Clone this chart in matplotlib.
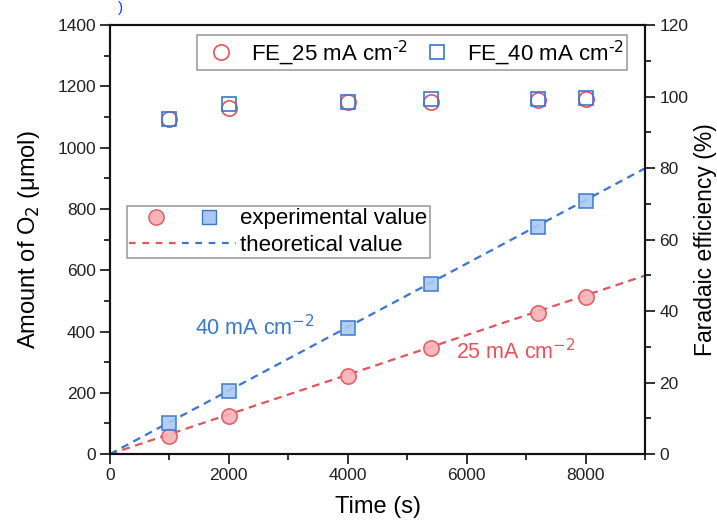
import matplotlib.pyplot as plt
from matplotlib.lines import Line2D
from matplotlib.legend_handler import HandlerTuple
from matplotlib.ticker import MultipleLocator

plt.rcParams['font.family'] = ['Liberation Sans', 'DejaVu Sans']

# time points (s)
t = [1000, 2000, 4000, 5400, 7200, 8000]
# measured O2 amount (umol)
o2_25 = [58, 124, 254, 345, 461, 514]
o2_40 = [100, 205, 410, 555, 740, 825]
# theoretical lines (end points)
t_theo = [0, 9000]
theo_25 = [0, 583]
theo_40 = [0, 933]
# faradaic efficiency (%)
fe_25 = [93.6, 96.9, 98.5, 98.4, 99.1, 99.3]
fe_40 = [93.7, 97.8, 98.6, 99.2, 99.2, 99.5]

red = '#e2545e'
red_face = '#f5b3b5'
blue = '#3b76d0'
blue_face = '#a9c9f2'

fig = plt.figure(figsize=(7.17, 5.22), dpi=100)
ax = fig.add_axes([0.153, 0.13, 0.747, 0.822])
ax2 = ax.twinx()

ax.plot(t_theo, theo_25, ls=(0, (3.5, 2.5)), color=red, lw=1.6, zorder=2)
ax.plot(t_theo, theo_40, ls=(0, (3.5, 2.5)), color=blue, lw=1.6, zorder=2)
ax.plot(t, o2_25, 'o', ms=11, mfc=red_face, mec=red, mew=1.2, alpha=0.9, zorder=3)
ax.plot(t, o2_40, 's', ms=10, mfc=blue_face, mec=blue, mew=1.2, alpha=0.9, zorder=3)

ax2.plot(t, fe_25, 'o', ms=11, mfc='none', mec=red, mew=1.2)
ax2.plot(t, fe_40, 's', ms=10, mfc='none', mec=blue, mew=1.2)

ax.text(1430, 413, '40 mA cm$^{-2}$', color=blue, fontsize=15.5, va='center', ha='left')
ax.text(5820, 335, '25 mA cm$^{-2}$', color=red, fontsize=15.5, va='center', ha='left')

ax.set_xlim(0, 9000)
ax.set_ylim(0, 1400)
ax2.set_ylim(0, 120)
ax.xaxis.set_major_locator(MultipleLocator(2000))
ax.xaxis.set_minor_locator(MultipleLocator(1000))
ax.yaxis.set_major_locator(MultipleLocator(200))
ax.yaxis.set_minor_locator(MultipleLocator(100))
ax2.yaxis.set_major_locator(MultipleLocator(20))
ax2.yaxis.set_minor_locator(MultipleLocator(10))

for a in (ax, ax2):
    a.tick_params(which='major', direction='out', length=7, width=1.3, labelsize=12.5,
                  colors='#222222', pad=3)
    a.tick_params(which='minor', direction='out', length=4, width=1.3, colors='#222222')
    for sp in a.spines.values():
        sp.set_linewidth(1.5)
        sp.set_color('#111111')

ax.set_xlabel('Time (s)', fontsize=17, labelpad=9)
ax.set_ylabel('Amount of O$_2$ (μmol)', fontsize=17, labelpad=11)
ax2.set_ylabel('Faradaic efficiency (%)', fontsize=16.5, labelpad=4)

# FE legend
h1 = Line2D([], [], marker='o', ls='none', ms=11, mfc='none', mec=red, mew=1.2)
h2 = Line2D([], [], marker='s', ls='none', ms=10, mfc='none', mec=blue, mew=1.2)
leg1 = ax2.legend([h1, h2], ['FE_25 mA cm$^{\\text{-}2}$', 'FE_40 mA cm$^{\\text{-}2}$'], ncol=2,
                  loc='upper right', bbox_to_anchor=(0.966, 0.976), fontsize=16,
                  frameon=True, fancybox=False, edgecolor='#888888', handletextpad=0.35,
                  columnspacing=0.3, borderpad=0.12, borderaxespad=0, handlelength=2.0)
leg1.get_frame().set_linewidth(1.2)

# experimental / theoretical legend
c = Line2D([], [], marker='o', ls='none', ms=11, mfc=red_face, mec=red, mew=1.0)
s = Line2D([], [], marker='s', ls='none', ms=10, mfc=blue_face, mec=blue, mew=1.0)
lr = Line2D([], [], ls=(0, (3, 3)), color=red, lw=1.6)
lb = Line2D([], [], ls=(0, (3, 3)), color=blue, lw=1.6)
leg2 = ax.legend([(c, s), (lr, lb)], ['experimental value', 'theoretical value'],
                 handler_map={tuple: HandlerTuple(ndivide=None, pad=0.0)},
                 loc='upper left', bbox_to_anchor=(0.032, 0.578), fontsize=16,
                 handlelength=4.8, handletextpad=0.2, labelspacing=0.25,
                 frameon=True, fancybox=False, edgecolor='#888888', borderpad=0.1,
                 borderaxespad=0)
leg2.get_frame().set_linewidth(1.2)
ax.set_zorder(ax2.get_zorder() + 1)
ax.patch.set_visible(False)

fig.text(0.165, 0.999, ')', color='#1f3fff', fontsize=11, va='top')

fig.savefig('out.png', dpi=100)
